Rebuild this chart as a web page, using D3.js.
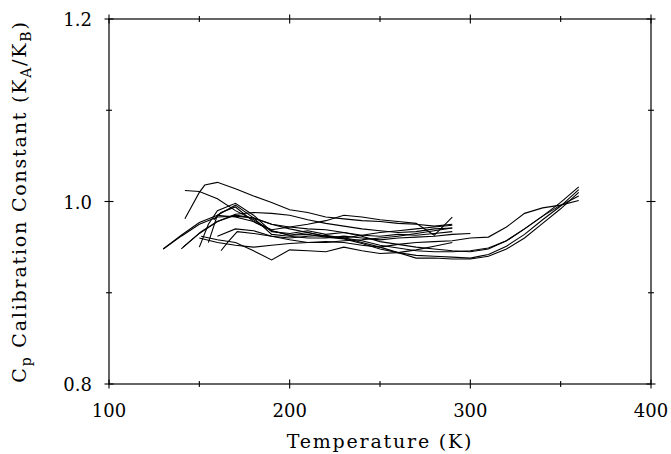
<!DOCTYPE html>
<html><head><meta charset="utf-8">
<script src="https://cdn.jsdelivr.net/npm/d3@7/dist/d3.min.js"></script>
<style>body{margin:0;background:#fff}svg{display:block}text{font-family:"DejaVu Serif",serif;fill:#000}</style>
</head><body><svg id="c" width="671" height="454"></svg>
<script>
// ---- data (temperature K, calibration constant) ----
const xTickLabels = ["100","200","300","400"];
const yTickLabels = ["0.8","1.0","1.2"];
const xTicks = [100,200,300,400];
const xMinor = [150,250,350];
const yTicks = [0.8,1.0,1.2];
const yMinor = [0.9,1.1];

const runA1 = [[142,0.981],[150,1.010],[153,1.018],[160,1.021],[170,1.014],[180,1.006],[190,0.999],[200,0.991],[210,0.988],[220,0.983],[230,0.981],[240,0.979],[250,0.978],[260,0.976],[270,0.975],[280,0.973],[290,0.975]];
const runA2 = [[142,1.012],[150,1.011],[160,1.003],[170,0.990],[180,0.980],[190,0.968],[200,0.963],[210,0.966],[220,0.962],[230,0.960],[240,0.963],[250,0.966],[260,0.968],[270,0.970],[280,0.972],[290,0.974]];
const runP1 = [[150,0.950],[155,0.975],[160,0.990],[170,0.998],[180,0.985],[190,0.967],[200,0.965],[210,0.968],[220,0.964],[230,0.966],[240,0.963],[250,0.962],[260,0.964],[270,0.963],[280,0.965],[290,0.967]];
const runP2 = [[155,0.955],[160,0.985],[170,0.996],[180,0.982],[190,0.964],[200,0.962],[210,0.960],[220,0.960],[230,0.962],[240,0.960],[250,0.958],[260,0.960],[270,0.961],[280,0.962],[290,0.964],[300,0.965]];
const runP3 = [[158,0.980],[162,0.988],[170,0.994],[180,0.978],[190,0.969],[200,0.972],[210,0.975],[220,0.979],[230,0.985],[240,0.983],[250,0.980],[260,0.978],[270,0.976],[280,0.963],[290,0.983]];
const runT1 = [[130,0.948],[140,0.962],[150,0.975],[160,0.983],[170,0.984],[180,0.982],[190,0.975],[200,0.970],[210,0.966],[220,0.962],[230,0.960],[240,0.955],[250,0.950],[260,0.944],[270,0.938],[280,0.938],[290,0.937],[300,0.937],[310,0.940],[320,0.948],[330,0.960],[340,0.976],[350,0.992],[360,1.010]];
const runT2 = [[130,0.948],[140,0.963],[150,0.977],[160,0.985],[170,0.983],[180,0.978],[190,0.968],[200,0.963],[210,0.964],[220,0.961],[230,0.959],[240,0.954],[250,0.948],[260,0.944],[270,0.941],[280,0.940],[290,0.939],[300,0.938],[310,0.942],[320,0.951],[330,0.964],[340,0.980],[350,0.995],[360,1.013]];
const runT3 = [[140,0.948],[150,0.965],[160,0.978],[170,0.985],[180,0.982],[190,0.975],[200,0.972],[210,0.970],[220,0.969],[230,0.966],[240,0.962],[250,0.956],[260,0.953],[270,0.950],[280,0.948],[290,0.946],[300,0.945],[310,0.948],[320,0.957],[330,0.970],[340,0.984],[350,0.996],[360,1.006]];
const runU1 = [[150,0.960],[160,0.955],[170,0.952],[180,0.950],[190,0.952],[200,0.954],[210,0.955],[220,0.956],[230,0.955],[240,0.952],[250,0.950],[260,0.953],[270,0.955],[280,0.956],[290,0.957],[300,0.960],[310,0.961],[320,0.972],[330,0.987],[340,0.993],[350,0.996],[360,1.001]];
const runU2 = [[160,0.962],[170,0.970],[180,0.968],[190,0.962],[200,0.960],[210,0.962],[220,0.963],[230,0.960],[240,0.957],[250,0.952],[260,0.949],[270,0.946],[280,0.945],[290,0.945],[300,0.946],[310,0.949],[320,0.957],[330,0.970],[340,0.984],[350,0.999],[360,1.016]];
const runL1 = [[151,0.962],[160,0.958],[170,0.955],[180,0.946],[190,0.936],[200,0.947],[210,0.946],[220,0.945],[230,0.950],[240,0.946],[250,0.943],[260,0.944],[270,0.947],[280,0.951],[290,0.955]];
const runL2 = [[162,0.946],[166,0.956],[171,0.967],[180,0.965],[190,0.962],[200,0.958],[210,0.955],[220,0.955],[230,0.957],[240,0.958],[250,0.960],[260,0.962],[270,0.965],[280,0.968],[290,0.971]];
const runL3 = [[141,0.950],[151,0.967],[160,0.978],[170,0.986],[180,0.988],[190,0.987],[200,0.985],[210,0.980],[220,0.976],[230,0.973],[240,0.970],[250,0.968],[260,0.966],[270,0.967],[280,0.970],[290,0.971]];
const runs = [runA1,runA2,runP1,runP2,runP3,runT1,runT2,runT3,runU1,runU2,runL1,runL2,runL3];

// ---- layout ----
const L=109, R=651, T=19, B=384;
const svg = d3.select("#c");
const x = d3.scaleLinear().domain([100,400]).range([L,R]);
const y = d3.scaleLinear().domain([0.8,1.2]).range([B,T]);

// frame
svg.append("rect").attr("x",L).attr("y",T).attr("width",R-L).attr("height",B-T)
  .attr("fill","none").attr("stroke","#000").attr("stroke-width",1.2);

function crossTicks(sel, vals, isX, pos, len){
  vals.forEach(v=>{
    if(isX){ sel.append("line").attr("x1",x(v)).attr("x2",x(v)).attr("y1",pos-len).attr("y2",pos+len); }
    else { sel.append("line").attr("y1",y(v)).attr("y2",y(v)).attr("x1",pos-len).attr("x2",pos+len); }
  });
}
const tg = svg.append("g").attr("stroke","#000").attr("stroke-width",1.1);
crossTicks(tg, xTicks, true, B, 4.5);
crossTicks(tg, xMinor, true, B, 3);
crossTicks(tg, xTicks, true, T, 4.5);
crossTicks(tg, xMinor, true, T, 3);
crossTicks(tg, yTicks, false, L, 4.5);
crossTicks(tg, yMinor, false, L, 3);
crossTicks(tg, yTicks, false, R, 4.5);
crossTicks(tg, yMinor, false, R, 3);

// tick labels
svg.append("g").selectAll("text").data(xTicks).join("text")
  .attr("x",d=>x(d)).attr("y",B+33).attr("text-anchor","middle")
  .attr("font-size",18).text((d,i)=>xTickLabels[i]);
svg.append("g").selectAll("text").data(yTicks).join("text")
  .attr("x",L-17).attr("y",d=>y(d)+7).attr("text-anchor","end")
  .attr("font-size",18).text((d,i)=>yTickLabels[i]);

// axis titles
svg.append("text").attr("x",(L+R)/2).attr("y",448).attr("text-anchor","middle")
  .attr("font-size",19).attr("letter-spacing",1.8).text("Temperature (K)");
const yt = svg.append("text").attr("transform","translate(26,"+((T+B)/2)+") rotate(-90)")
  .attr("text-anchor","middle").attr("font-size",19).attr("letter-spacing",1.8);
yt.append("tspan").text("C");
yt.append("tspan").attr("dy",5).attr("font-size",14).text("p");
yt.append("tspan").attr("dy",-5).text(" Calibration Constant (K");
yt.append("tspan").attr("dy",5).attr("font-size",14).text("A");
yt.append("tspan").attr("dy",-5).text("/K");
yt.append("tspan").attr("dy",5).attr("font-size",14).text("B");
yt.append("tspan").attr("dy",-5).text(")");

// lines
const line = d3.line().x(d=>x(d[0])).y(d=>y(d[1]));
svg.append("g").selectAll("path").data(runs).join("path")
  .attr("d",line).attr("fill","none").attr("stroke","#000").attr("stroke-width",1.1);
</script></body></html>
